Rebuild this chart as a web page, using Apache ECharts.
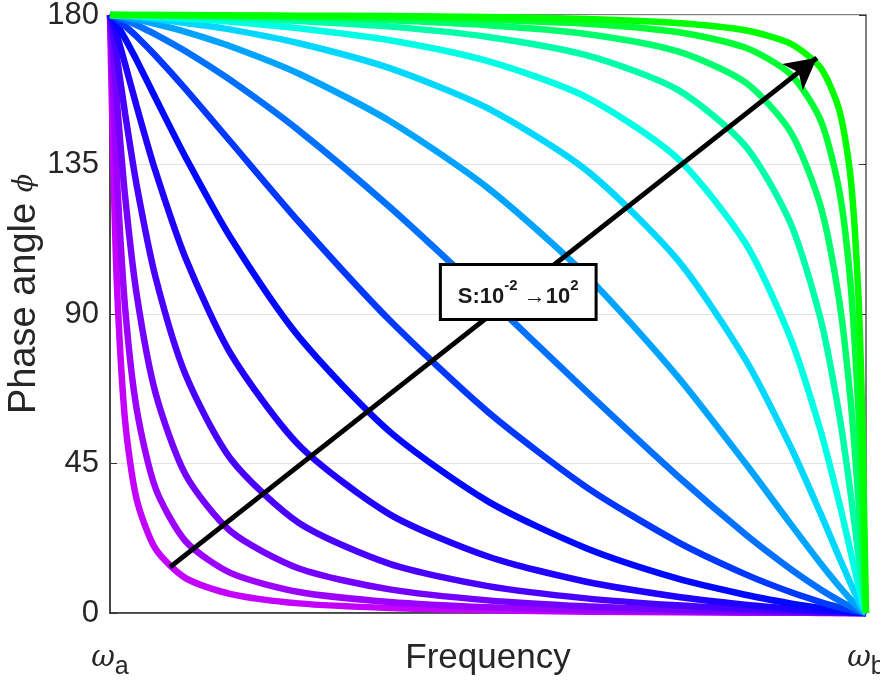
<!DOCTYPE html>
<html>
<head>
<meta charset="utf-8">
<script src="https://cdn.jsdelivr.net/npm/echarts@6/dist/echarts.min.js"></script>
<style>
  html, body { margin: 0; padding: 0; background: #fff; }
  #phase { width: 880px; height: 684px; }
</style>
</head>
<body>
<div id="phase"></div>
<script>
// frequency position between wa (0) and wb (1)
const freq = [0, 0.005, 0.01, 0.02, 0.035, 0.06, 0.1, 0.16, 0.25, 0.37, 0.5, 0.63, 0.75, 0.84, 0.9, 0.94, 0.965, 0.98, 0.99, 0.995, 1]

// phase angle (deg) per curve, S = 1e-2 ... 1e2
const phase0 = [180, 129.2, 94.3, 57.8, 34.5, 19.4, 10.5, 5.7, 2.9, 1.5, 0.8, 0.4, 0.2, 0.1, 0.1, 0, 0, 0, 0, 0, 0]
const phase1 = [180, 152.7, 127.4, 91.8, 61.8, 37.7, 21.6, 12.0, 6.3, 3.3, 1.7, 0.9, 0.5, 0.2, 0.1, 0.1, 0, 0, 0, 0, 0]
const phase2 = [180, 166.5, 151.6, 125.4, 96.3, 66.4, 41.6, 24.5, 13.4, 7.1, 3.8, 2.0, 1.0, 0.5, 0.3, 0.1, 0.1, 0, 0, 0, 0]
const phase3 = [180, 173.6, 165.9, 150.3, 129.1, 101.3, 71.7, 46.3, 27.1, 14.8, 8.1, 4.4, 2.3, 1.2, 0.6, 0.3, 0.2, 0.1, 0, 0, 0]
const phase4 = [180, 177.0, 173.3, 165.2, 152.7, 133.1, 106.8, 77.9, 50.5, 29.7, 17.0, 9.4, 4.9, 2.5, 1.3, 0.7, 0.4, 0.2, 0.1, 0, 0]
const phase5 = [180, 178.6, 176.9, 172.9, 166.5, 155.1, 137.2, 112.8, 83.1, 54.6, 33.6, 19.5, 10.4, 5.5, 2.9, 1.5, 0.8, 0.4, 0.2, 0.1, 0]
const phase6 = [180, 179.4, 178.6, 176.7, 173.6, 167.8, 157.7, 141.7, 117.7, 88.1, 60.5, 37.9, 21.5, 11.7, 6.3, 3.3, 1.7, 0.9, 0.4, 0.2, 0]
const phase7 = [180, 179.7, 179.4, 178.5, 177.0, 174.2, 169.1, 160.3, 145.2, 122.2, 94.9, 66.7, 41.4, 23.8, 13.3, 7.1, 3.7, 1.9, 0.8, 0.4, 0]
const phase8 = [180, 179.9, 179.7, 179.3, 178.6, 177.3, 174.9, 170.5, 162.3, 148.1, 127.9, 101.6, 71.4, 45.2, 26.9, 14.9, 7.9, 4.0, 1.8, 0.8, 0]
const phase9 = [180, 179.9, 179.9, 179.7, 179.4, 178.8, 177.6, 175.6, 171.5, 164.0, 151.9, 133.3, 106.5, 76.5, 50.2, 29.9, 16.5, 8.7, 3.8, 1.7, 0]
const phase10 = [180, 180, 179.9, 179.9, 179.7, 179.4, 178.9, 178.0, 176.0, 172.4, 166.1, 155.3, 137.0, 111.5, 82.8, 54.8, 32.8, 18.1, 8.2, 3.7, 0]
const phase11 = [180, 180, 180, 179.9, 179.9, 179.7, 179.5, 179.1, 178.2, 176.5, 173.4, 167.9, 157.6, 140.7, 117.4, 88.4, 59.2, 35.5, 17.2, 7.9, 0]
const phase12 = [180, 180, 180, 180, 179.9, 179.9, 179.8, 179.6, 179.2, 178.4, 176.9, 174.3, 169.1, 159.8, 144.9, 122.4, 93.4, 63.2, 34.0, 16.5, 0]
const phase13 = [180, 180, 180, 180, 180, 180, 179.9, 179.8, 179.6, 179.3, 178.6, 177.4, 174.9, 170.2, 162.2, 148.3, 126.7, 97.9, 61.0, 32.7, 0]
const phase14 = [180, 180, 180, 180, 180, 180, 180, 179.9, 179.8, 179.7, 179.4, 178.8, 177.6, 175.4, 171.4, 164.1, 151.1, 130.3, 95.4, 59.1, 0]

const curves = [phase0, phase1, phase2, phase3, phase4, phase5, phase6, phase7,
  phase8, phase9, phase10, phase11, phase12, phase13, phase14]
const curveColors = ['#c400ff', '#9c00ff', '#7400ff', '#4800ff', '#2000ff', '#0008ff', '#0038ff', '#0070ff',
  '#00a4ff', '#00d8ff', '#00ffe4', '#00ffa8', '#00ff6c', '#00ff34', '#00ff00']

const yTicks = [0, 45, 90, 135, 180]
// arrow S: 1e-2 -> 1e2 and its text box, in data units
const arrowFrom = [0.0794, 13.8]
const arrowTo = [0.935, 167.1]
const boxAt = [0.54, 96.6]

const font = 'Liberation Sans, Arial, Helvetica, sans-serif'
const ink = '#262626'

let myChart = echarts.init(document.getElementById('phase'))

let series = curves.map((phase, k) => ({
  name: 'S' + k,
  type: 'line',
  data: freq.map((f, i) => [f, phase[i]]),
  showSymbol: false,
  smooth: 0.25,
  clip: false,
  silent: true,
  animation: false,
  lineStyle: { width: 6.5, color: curveColors[k] }
}))

// arrow + label go on top of the last curve
series[series.length - 1].markLine = {
  silent: true,
  animation: false,
  symbol: ['none', 'arrow'],
  symbolSize: [25, 31],
  label: { show: false },
  lineStyle: { color: '#000', width: 5, type: 'solid' },
  data: [[{ coord: arrowFrom }, { coord: arrowTo }]]
}
series[series.length - 1].markPoint = {
  silent: true,
  animation: false,
  symbol: 'rect',
  symbolSize: 1,
  itemStyle: { color: 'rgba(0,0,0,0)' },
  label: {
    show: true,
    position: 'inside',
    backgroundColor: '#fff',
    borderColor: '#000',
    borderWidth: 3,
    padding: [12, 16, 10, 16],
    formatter: '{t|S:10}{u|-2}{t| \u219210}{u|2}',
    rich: {
      t: { fontSize: 22, fontWeight: 'bold', color: '#1a1a1a', fontFamily: font, lineHeight: 30, verticalAlign: 'bottom' },
      u: { fontSize: 15, fontWeight: 'bold', color: '#1a1a1a', fontFamily: font, lineHeight: 30, verticalAlign: 'top' }
    }
  },
  data: [{ coord: boxAt }]
}

var option = {
  backgroundColor: '#fff',
  animation: false,
  grid: {
    left: 110, right: 14, top: 15, bottom: 71,
    containLabel: false,
    outerBoundsMode: 'none',
    show: true, borderColor: '#555', borderWidth: 1.5, backgroundColor: 'transparent'
  },
  xAxis: {
    type: 'value',
    min: 0, max: 1, interval: 1,
    name: 'Frequency',
    nameLocation: 'middle',
    nameGap: 28,
    nameMoveOverlap: false,
    nameTextStyle: { fontSize: 35, color: ink, fontFamily: font },
    axisLine: { lineStyle: { color: '#333', width: 1.5 } },
    axisTick: { show: false },
    splitLine: { show: false },
    axisLabel: {
      margin: 31,
      showMinLabel: true,
      showMaxLabel: true,
      formatter: v => v === 0 ? '{w|\u03c9}{s|a}' : (v === 1 ? '{w|\u03c9}{s|b}' : ''),
      rich: {
        w: { fontSize: 29, fontStyle: 'italic', fontFamily: 'DejaVu Serif, Liberation Serif, serif', color: ink, lineHeight: 36, verticalAlign: 'top' },
        s: { fontSize: 25, fontFamily: font, color: ink, lineHeight: 36, verticalAlign: 'bottom' }
      }
    }
  },
  yAxis: [
    {
      type: 'value',
      min: yTicks[0], max: yTicks[yTicks.length - 1], interval: 45,
      name: 'Phase angle {p|\u03d5}',
      nameLocation: 'middle',
      nameGap: 66,
      nameRotate: 90,
      nameMoveOverlap: false,
      nameTextStyle: {
        fontSize: 38, color: ink, fontFamily: font,
        padding: [0, 0, 0, 40],
        rich: { p: { fontSize: 27, fontStyle: 'italic', color: ink, fontFamily: 'DejaVu Serif, serif' } }
      },
      axisLine: { show: true, lineStyle: { color: '#333', width: 1.5 } },
      axisTick: { show: true, inside: true, length: 7, lineStyle: { color: '#333' } },
      axisLabel: { fontSize: 31, color: ink, fontFamily: font, margin: 11 },
      splitLine: { show: true, lineStyle: { color: '#e3e3e3', width: 1 } }
    },
    {
      type: 'value',
      position: 'right',
      min: yTicks[0], max: yTicks[yTicks.length - 1], interval: 45,
      axisLine: { show: false },
      axisTick: { show: true, inside: true, length: 7, lineStyle: { color: '#333' } },
      axisLabel: { show: false },
      splitLine: { show: false }
    }
  ],
  series: series
}

myChart.setOption(option, true)
</script>
</body>
</html>
